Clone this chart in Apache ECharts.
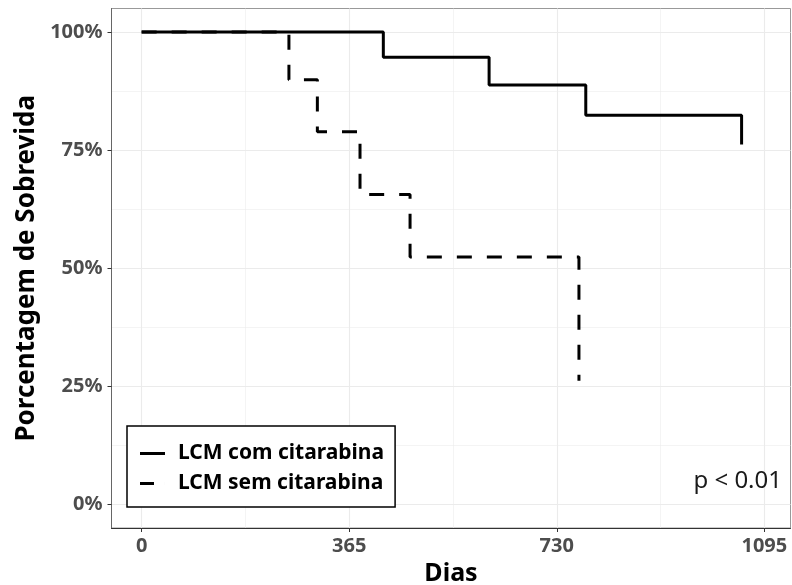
<!DOCTYPE html>
<html>
<head>
<meta charset="utf-8">
<script src="https://cdn.jsdelivr.net/npm/echarts@6/dist/echarts.min.js"></script>
<style>
  html, body { margin: 0; padding: 0; background: #fff; }
  #main { width: 792px; height: 585px; }
</style>
</head>
<body>
<div id="main"></div>
<script>
// Kaplan-Meier: tempo (dias) e sobrevida (%)
var timesCom = [0, 425, 611, 781, 1055];
var survCom = [100, 94.7, 88.8, 82.4, 76.2];
var timesSem = [0, 259, 309, 384, 472, 769];
var survSem = [100, 89.9, 78.9, 65.6, 52.4, 26.2];
var xTicks = [0, 365, 730, 1095];
var xMinor = [182.5, 547.5, 912.5];
var yTicks = [0, 25, 50, 75, 100];
var yMinor = [12.5, 37.5, 62.5, 87.5];
var seriesNames = ['LCM com citarabina', 'LCM sem citarabina'];

var font = 'Noto Sans';
var myChart = echarts.init(document.getElementById('main'));

function pairs(xs, ys) {
    return xs.map(function (x, i) { return [x, ys[i]]; });
}

var gridLines = [];
xTicks.forEach(function (v) { gridLines.push({xAxis: v, lineStyle: {width: 1.1}}); });
xMinor.forEach(function (v) { gridLines.push({xAxis: v, lineStyle: {width: 0.55}}); });
yTicks.forEach(function (v) { gridLines.push({yAxis: v, lineStyle: {width: 1.1}}); });
yMinor.forEach(function (v) { gridLines.push({yAxis: v, lineStyle: {width: 0.55}}); });

option = {
    backgroundColor: '#fff',
    animation: false,
    grid: {
        left: 111.5, top: 8.5, right: 1.5, bottom: 57,
        outerBoundsMode: 'none', containLabel: false,
        show: true, borderColor: '#999', borderWidth: 1
    },
    xAxis: {
        type: 'value', min: -53, max: 1141,
        name: 'Dias', nameLocation: 'middle', nameGap: 32,
        nameTextStyle: {fontFamily: font, fontWeight: 'bold', fontSize: 25, color: '#000'},
        axisLine: {show: true, onZero: false, lineStyle: {color: '#333', width: 1}},
        axisTick: {show: true, length: 4, customValues: xTicks, lineStyle: {color: '#333'}},
        axisLabel: {
            customValues: xTicks, margin: 8, fontFamily: font, fontWeight: 'bold', fontSize: 20, color: '#4d4d4d',
            formatter: function (v) { return String(v); }
        },
        splitLine: {show: false}
    },
    yAxis: {
        type: 'value', min: -5, max: 105,
        name: 'Porcentagem de Sobrevida', nameLocation: 'middle', nameGap: 64,
        nameTextStyle: {fontFamily: font, fontWeight: 'bold', fontSize: 26, color: '#000'},
        axisLine: {show: true, onZero: false, lineStyle: {color: '#666', width: 1}},
        axisTick: {show: true, length: 4, customValues: yTicks, lineStyle: {color: '#333'}},
        axisLabel: {customValues: yTicks, margin: 9, formatter: '{value}%', fontFamily: font, fontWeight: 'bold', fontSize: 20, color: '#4d4d4d'},
        splitLine: {show: false}
    },
    legend: {
        data: [
            {name: seriesNames[0], icon: 'path://M0,5.5h25v3h-25z'},
            {name: seriesNames[1], icon: 'path://M0,5.5h14v3h-14z M25,5.5h0.01v3h-0.01z'}
        ],
        orient: 'vertical',
        left: 127, top: 426,
        padding: [17, 11, 13, 13],
        itemWidth: 25, itemHeight: 14, itemGap: 9,
        borderColor: '#000', borderWidth: 1.5,
        backgroundColor: '#fff',
        textStyle: {fontFamily: font, fontWeight: 'bold', fontSize: 21, color: '#000', padding: [0, 0, 0, 8]}
    },
    graphic: [{
        type: 'text', right: 10, top: 469, z: 100,
        style: {text: 'p < 0.01', font: '24px "Noto Sans"', fill: '#1a1a1a'}
    }],
    series: [
        {
            name: 'grade', type: 'line', data: [], silent: true, z: 0,
            markLine: {
                z: 0, silent: true, symbol: 'none', label: {show: false},
                lineStyle: {color: '#ebebeb', type: 'solid'},
                data: gridLines
            }
        },
        {
            name: seriesNames[1], type: 'line', step: 'end', showSymbol: false, symbol: 'none',
            data: pairs(timesSem, survSem), z: 2,
            itemStyle: {color: '#000'},
            lineStyle: {color: '#000', width: 3, type: [15, 15]}
        },
        {
            name: seriesNames[0], type: 'line', step: 'end', showSymbol: false, symbol: 'none',
            data: pairs(timesCom, survCom), z: 3,
            itemStyle: {color: '#000'},
            lineStyle: {color: '#000', width: 3, type: 'solid'}
        }
    ]
};
myChart.setOption(option);
</script>
</body>
</html>
